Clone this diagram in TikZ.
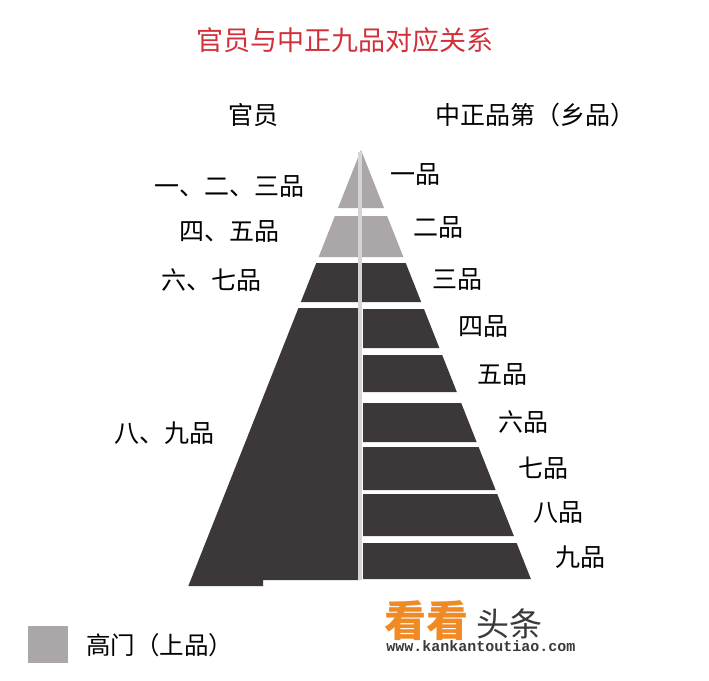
\documentclass[tikz,border=0pt]{standalone}
\usepackage{fontspec}
\newfontfamily\cjk{Noto Sans CJK SC}
\newfontfamily\urlfont{Liberation Mono}
\definecolor{darkgray}{HTML}{3C3839}
\definecolor{lightgray}{HTML}{ABA7A8}
\definecolor{lineshade}{HTML}{D6D4D4}
\definecolor{titlered}{HTML}{D2303A}
\definecolor{wmorange}{HTML}{F08A24}
\definecolor{wmgray}{HTML}{3A3A3A}
\tikzset{
  lbl/.style={font=\cjk\fontsize{25}{30}\selectfont, text=black, inner sep=0pt},
  hdr/.style={font=\cjk\fontsize{25}{30}\selectfont, text=black, inner sep=0pt},
  upper/.style={fill=lightgray},
  lower/.style={fill=darkgray},
}
\begin{document}
\begin{tikzpicture}[x=1pt,y=-1pt]
\fill[white] (0,0) rectangle (709,680);
\useasboundingbox (0,0) rectangle (709,680);
% edge coordinates
\foreach \y in {150,208,216,257,263,302,308,309,348,355,392,403,442,447,490,494,536,543,579,586}{
  \coordinate (R\y) at ({361+0.396*(\y-150)},\y);
  \coordinate (L\y) at ({361-0.396*(\y-150)},\y);
}
% full-width layers
\fill[upper] (R150) -- (R208) -- (L208) -- cycle;
\fill[upper] (L216) -- (R216) -- (R257) -- (L257) -- cycle;
\fill[lower] (L263) -- (R263) -- (R302) -- (L302) -- cycle;
% left big block (officials 8-9)
\fill[lower] (L308) -- (359,308) -- (359,580) -- (263,580) -- (263,586) -- (L586) -- cycle;
% right layers (grades 4-9)
\fill[lower] (363,309) -- (R309) -- (R348) -- (363,348) -- cycle;
\fill[lower] (363,355) -- (R355) -- (R392) -- (363,392) -- cycle;
\fill[lower] (363,403) -- (R403) -- (R442) -- (363,442) -- cycle;
\fill[lower] (363,447) -- (R447) -- (R490) -- (363,490) -- cycle;
\fill[lower] (363,494) -- (R494) -- (R536) -- (363,536) -- cycle;
\fill[lower] (363,543) -- (R543) -- (R579) -- (363,579) -- cycle;
% center dividing line
\draw[lineshade, line width=3.5pt] (360,152) -- (360,580);
% title
\node[font=\cjk\fontsize{27}{32}\selectfont, text=titlered, inner sep=0pt] (title) at (345,40) {官员与中正九品对应关系};
% headers
\node[hdr] (hleft) at (253,115) {官员};
\node[hdr] (hright) at (535,115) {中正品第（乡品）};
% left labels
\node[lbl] (o1) at (229,187) {一、二、三品};
\node[lbl] (o2) at (229,232) {四、五品};
\node[lbl] (o3) at (211,280) {六、七品};
\node[lbl] (o4) at (164,433) {八、九品};
% right labels
\node[lbl] (g1) at (415,175) {一品};
\node[lbl] (g2) at (438,228) {二品};
\node[lbl] (g3) at (457,280) {三品};
\node[lbl] (g4) at (483,327) {四品};
\node[lbl] (g5) at (502,375) {五品};
\node[lbl] (g6) at (523,422) {六品};
\node[lbl] (g7) at (543,468) {七品};
\node[lbl] (g8) at (558,513) {八品};
\node[lbl] (g9) at (580,557) {九品};
% legend
\fill[lightgray] (28,626) rectangle (68,663);
\node[lbl, anchor=west, font=\cjk\fontsize{24.5}{30}\selectfont] (legend) at (86,645) {高门（上品）};
% watermark
\node[font=\cjk\bfseries\fontsize{42}{46}\selectfont, text=wmorange, inner sep=0pt, anchor=west] (wm1) at (384,621) {看看};
\node[font=\cjk\fontsize{33}{36}\selectfont, text=wmgray, inner sep=0pt, anchor=west] (wm2) at (476,624) {头条};
\node[font=\urlfont\bfseries\fontsize{15}{17}\selectfont, text=wmgray, inner sep=0pt] (wmurl) at (481,646) {www.kankantoutiao.com};
\end{tikzpicture}
\end{document}
